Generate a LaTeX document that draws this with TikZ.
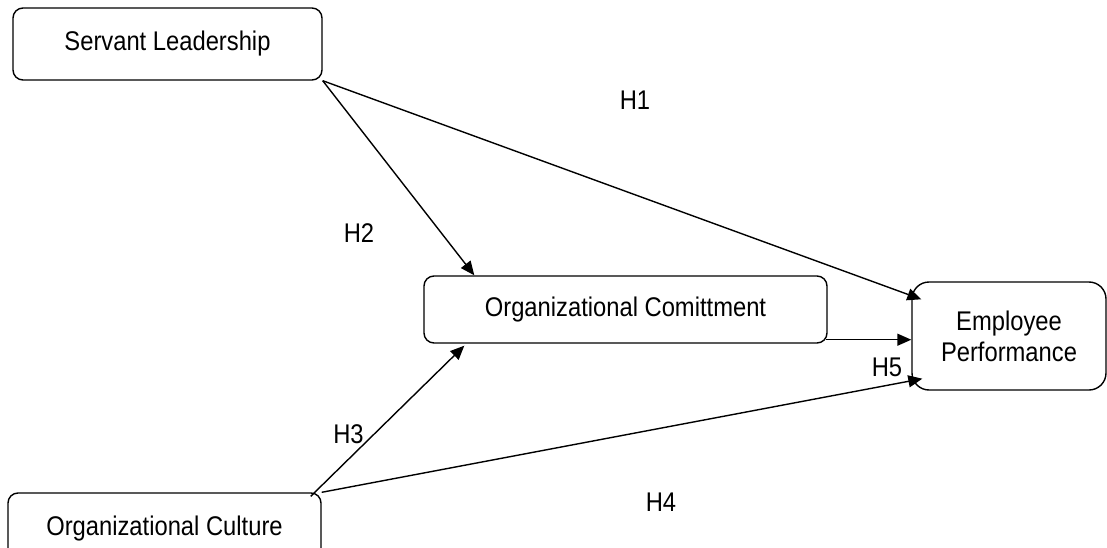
\documentclass[tikz,border=0pt]{standalone}
\usepackage{fontspec}
\setmainfont[FakeStretch=0.88]{Liberation Sans}
\usetikzlibrary{arrows.meta,calc}
\begin{document}
\begin{tikzpicture}[x=1pt,y=-1pt,
  box/.style={draw,line width=1.4pt,rounded corners=10pt,inner sep=0pt,
    align=center,font=\fontsize{27}{31}\selectfont},
  arr/.style={line width=1.4pt,-{Triangle[length=14pt,width=12pt]}},
  lab/.style={font=\fontsize{27}{31}\selectfont,inner sep=0pt}]
\useasboundingbox (0,0) rectangle (1107,548);
\clip (0,0) rectangle (1107,548);
\node[box,minimum width=309pt,minimum height=72pt] (SL) at (167.5,44) {Servant Leadership};
\node[box,minimum width=403pt,minimum height=67pt] (OC) at (625.5,309.5) {Organizational Comittment};
\node[box,rounded corners=17pt,minimum width=194pt,minimum height=108pt] (EP) at (1009,336) {Employee\\Performance};
\node[box,minimum width=313pt,minimum height=72pt] (OCu) at (164.5,529) {Organizational Culture};
\draw[arr] (SL.south east) -- ($(EP.north west)+(10,18)$);
\draw[arr] (SL.south east) -- ($(OC.north west)+(51,0)$);
\coordinate (c1) at ($(OC.south east)+(-2,-4)$);
\draw[arr] (c1) -- (c1 -| EP.west);
\draw[arr] ($(OCu.north east)+(-11,4)$) -- ($(OC.south west)+(41,2)$);
\draw[arr] (OCu.north east) -- ($(EP.south west)+(11,-12)$);
\node[lab] (h1) at (635,100) {H1};
\node[lab] (h2) at (359,233) {H2};
\node[lab] (h3) at (348.5,434.5) {H3};
\node[lab] (h4) at (661,502) {H4};
\node[lab] (h5) at (887,367) {H5};
\end{tikzpicture}
\end{document}
